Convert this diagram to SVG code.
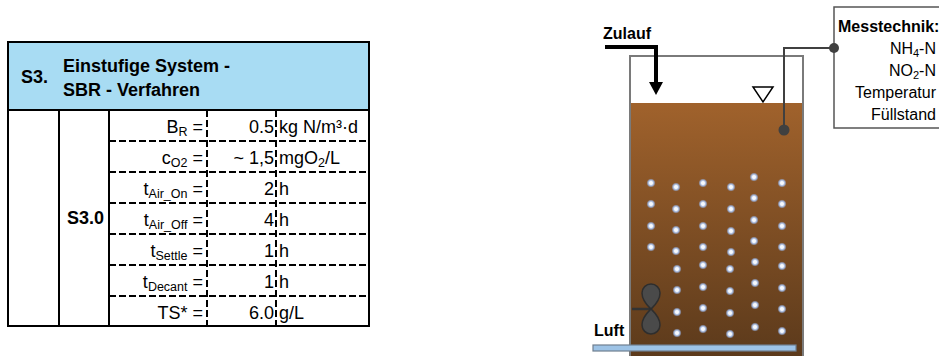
<svg xmlns="http://www.w3.org/2000/svg" width="939" height="356" viewBox="0 0 939 356">
  <style>
    .t { font-family: "Liberation Sans", Arial, sans-serif; font-size: 18px; fill: #000; }
    .b { font-weight: bold; }
    .sub { font-size: 12.5px; }
    .r { text-anchor: end; }
    .solid { stroke: #000; stroke-width: 2; fill: none; }
    .dash { stroke: #000; stroke-width: 2; stroke-dasharray: 7 3; fill: none; }
    .lbl { font-family: "Liberation Sans", Arial, sans-serif; font-size: 16px; fill: #000; }
  </style>
  <defs>
    <linearGradient id="sludge" x1="0" y1="0" x2="0" y2="1">
      <stop offset="0" stop-color="#A0622C"/>
      <stop offset="1" stop-color="#5A391B"/>
    </linearGradient>
    <radialGradient id="bubbleFill">
      <stop offset="0" stop-color="#ffffff"/>
      <stop offset="0.35" stop-color="#eef3fb"/>
      <stop offset="0.65" stop-color="#9fb7e3" stop-opacity="0.9"/>
      <stop offset="1" stop-color="#8fa8d8" stop-opacity="0"/>
    </radialGradient>
    <circle id="bubble" r="4.6" fill="url(#bubbleFill)"/>
    <path id="lobe" d="M0,0 C-3,-3 -9,-8 -9,-16 A9,9 0 1 1 9,-16 C9,-8 3,-3 0,0 Z"/>
  </defs>

  <!-- parameter table -->
  <g id="table">
    <rect x="8" y="42" width="361" height="68" fill="#A8DCF3"/>
    <rect x="8" y="42" width="361" height="284" class="solid"/>
    <line x1="8" y1="110" x2="369" y2="110" class="solid"/>
    <line x1="59" y1="110" x2="59" y2="326" class="solid"/>
    <line x1="109" y1="110" x2="109" y2="326" class="solid"/>
    <line x1="207" y1="110" x2="207" y2="326" class="dash"/>
    <line x1="276" y1="110" x2="276" y2="326" class="dash"/>
    <g class="dash">
      <line x1="109" y1="141" x2="369" y2="141"/>
      <line x1="109" y1="172" x2="369" y2="172"/>
      <line x1="109" y1="203" x2="369" y2="203"/>
      <line x1="109" y1="234" x2="369" y2="234"/>
      <line x1="109" y1="265" x2="369" y2="265"/>
      <line x1="109" y1="296" x2="369" y2="296"/>
    </g>

    <text class="t b" x="21" y="83">S3.</text>
    <text class="t b" x="63" y="72">Einstufige System -</text>
    <text class="t b" x="63" y="96">SBR - Verfahren</text>
    <text class="t b" x="67" y="224">S3.0</text>

    <text class="t r" x="203" y="133">B<tspan class="sub" dy="3">R</tspan><tspan dy="-3"> =</tspan></text>
    <text class="t r" x="203" y="164">c<tspan class="sub" dy="3">O2</tspan><tspan dy="-3"> =</tspan></text>
    <text class="t r" x="203" y="195">t<tspan class="sub" dy="3">Air_On</tspan><tspan dy="-3"> =</tspan></text>
    <text class="t r" x="203" y="226">t<tspan class="sub" dy="3">Air_Off</tspan><tspan dy="-3">  =</tspan></text>
    <text class="t r" x="203" y="257">t<tspan class="sub" dy="3">Settle</tspan><tspan dy="-3"> =</tspan></text>
    <text class="t r" x="203" y="288">t<tspan class="sub" dy="3">Decant</tspan><tspan dy="-3"> =</tspan></text>
    <text class="t r" x="203" y="319">TS* =</text>

    <text class="t r" x="274" y="133">0.5</text>
    <text class="t r" x="274" y="164">~ 1,5</text>
    <text class="t r" x="274" y="195">2</text>
    <text class="t r" x="274" y="226">4</text>
    <text class="t r" x="274" y="257">1</text>
    <text class="t r" x="274" y="288">1</text>
    <text class="t r" x="274" y="319">6.0</text>

    <text class="t" x="279" y="133">kg N/m³·d</text>
    <text class="t" x="279" y="164">mgO<tspan class="sub" dy="3">2</tspan><tspan dy="-3">/L</tspan></text>
    <text class="t" x="279" y="195">h</text>
    <text class="t" x="279" y="226">h</text>
    <text class="t" x="279" y="257">h</text>
    <text class="t" x="279" y="288">h</text>
    <text class="t" x="279" y="319">g/L</text>
  </g>

  <!-- reactor tank with sludge -->
  <g id="tank">
    <rect x="630" y="103" width="173" height="260" fill="url(#sludge)"/>
    <path d="M630,360 V56 H803 V360" fill="none" stroke="#7a7a7a" stroke-width="2"/>
    <polygon points="753,87 773,87 763,102" fill="#fff" stroke="#000" stroke-width="1.5"/>
  </g>

  <!-- aeration bubbles -->
  <g id="bubbles">
    <use href="#bubble" x="651" y="183"/><use href="#bubble" x="651" y="204"/><use href="#bubble" x="651" y="226"/><use href="#bubble" x="651" y="247"/>
    <use href="#bubble" x="676" y="187"/><use href="#bubble" x="676" y="209"/><use href="#bubble" x="676" y="230"/><use href="#bubble" x="676" y="251"/>
    <use href="#bubble" x="677" y="269"/><use href="#bubble" x="677" y="290"/><use href="#bubble" x="677" y="312"/><use href="#bubble" x="677" y="333"/>
    <use href="#bubble" x="703" y="183"/><use href="#bubble" x="703" y="204"/><use href="#bubble" x="703" y="226"/><use href="#bubble" x="703" y="247"/>
    <use href="#bubble" x="703" y="265"/><use href="#bubble" x="703" y="287"/><use href="#bubble" x="703" y="308"/><use href="#bubble" x="703" y="329"/>
    <use href="#bubble" x="731" y="187"/><use href="#bubble" x="731" y="209"/><use href="#bubble" x="731" y="231"/><use href="#bubble" x="731" y="252"/>
    <use href="#bubble" x="730" y="269"/><use href="#bubble" x="730" y="291"/><use href="#bubble" x="730" y="313"/><use href="#bubble" x="730" y="334"/>
    <use href="#bubble" x="754" y="177"/><use href="#bubble" x="754" y="198"/><use href="#bubble" x="754" y="220"/><use href="#bubble" x="754" y="241"/>
    <use href="#bubble" x="755" y="262"/><use href="#bubble" x="755" y="283"/><use href="#bubble" x="755" y="305"/><use href="#bubble" x="755" y="327"/>
    <use href="#bubble" x="782" y="183"/><use href="#bubble" x="782" y="204"/><use href="#bubble" x="782" y="226"/><use href="#bubble" x="782" y="247"/>
    <use href="#bubble" x="782" y="266"/><use href="#bubble" x="782" y="288"/><use href="#bubble" x="782" y="309"/><use href="#bubble" x="782" y="331"/>
  </g>

  <!-- stirrer -->
  <g id="mixer">
    <line x1="632" y1="309" x2="651" y2="309" stroke="#333" stroke-width="2.5"/>
    <use href="#lobe" x="651" y="309" fill="#4a4a4a" stroke="#2e2e2e" stroke-width="1.5"/>
    <use href="#lobe" transform="translate(651,309) scale(1,-1)" fill="#4a4a4a" stroke="#2e2e2e" stroke-width="1.5"/>
  </g>

  <!-- air supply pipe -->
  <g id="luft">
    <rect x="593" y="345" width="203" height="6" fill="#9DC3E6" stroke="#6f7f8f" stroke-width="1.2"/>
    <text class="lbl b" x="594" y="336">Luft</text>
  </g>

  <!-- inflow -->
  <g id="zulauf">
    <text class="lbl b" x="603" y="39">Zulauf</text>
  </g>

  <!-- measurement box -->
  <g id="messtechnik">
    <rect x="834" y="7" width="120" height="121" fill="#fff" stroke="#555" stroke-width="1.5"/>
    <text class="lbl b" x="838" y="32">Messtechnik:</text>
    <text class="lbl r" x="936" y="54">NH<tspan font-size="11" dy="3">4</tspan><tspan dy="-3">-N</tspan></text>
    <text class="lbl r" x="936" y="76">NO<tspan font-size="11" dy="3">2</tspan><tspan dy="-3">-N</tspan></text>
    <text class="lbl r" x="936" y="98">Temperatur</text>
    <text class="lbl r" x="936" y="120">Füllstand</text>
  </g>

  <!-- connectors -->
  <g id="connectors">
    <path d="M605,47 H656 V84" fill="none" stroke="#000" stroke-width="4"/>
    <polygon points="649,82 663,82 656,95" fill="#000"/>
    <path d="M834,48 H784 V130" fill="none" stroke="#404040" stroke-width="2"/>
    <circle cx="834" cy="48" r="5" fill="#404040"/>
    <circle cx="784" cy="130" r="5.5" fill="#404040"/>
  </g>
</svg>
